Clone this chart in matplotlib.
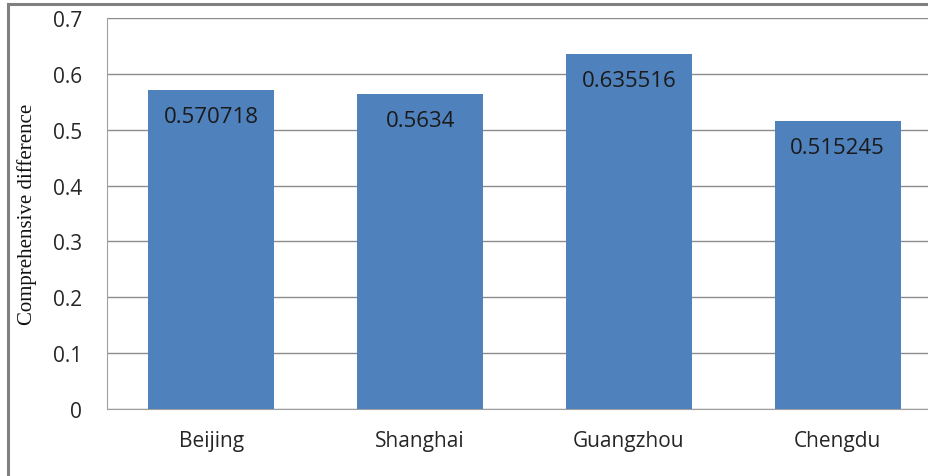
import matplotlib.pyplot as plt
from matplotlib.lines import Line2D

# data
cities = ['Beijing', 'Shanghai', 'Guangzhou', 'Chengdu']
values = [0.570718, 0.5634, 0.635516, 0.515245]
value_labels = ['0.570718', '0.5634', '0.635516', '0.515245']

plt.rcParams['font.family'] = ['Open Sans', 'DejaVu Sans']

fig = plt.figure(figsize=(9.29, 4.77), dpi=100)
ax = fig.add_axes([107/929, 67/477, 835/929, 391/477])

x = range(len(cities))
ax.bar(x, values, width=0.604, color='#4F81BD', zorder=3)

for i, (v, lab) in enumerate(zip(values, value_labels)):
    ax.annotate(lab, (i, v), xytext=(0, -19), textcoords='offset points',
                ha='center', va='center', fontsize=16, color='#1a1a1a', zorder=4)

ax.set_xlim(-0.5, 3.5)
ax.set_ylim(0, 0.7)
ax.set_yticks([0, 0.1, 0.2, 0.3, 0.4, 0.5, 0.6, 0.7])
ax.set_yticklabels(['0', '0.1', '0.2', '0.3', '0.4', '0.5', '0.6', '0.7'])
ax.set_xticks(list(x))
ax.set_xticklabels(cities)
ax.tick_params(axis='both', length=0, labelsize=15, colors='#262626')
ax.tick_params(axis='y', pad=18)
ax.tick_params(axis='x', pad=15)
ax.grid(axis='y', color='#8c8c8c', linewidth=1, zorder=0)

for s in ['top', 'right']:
    ax.spines[s].set_visible(False)
ax.spines['left'].set_color('#a0a0a0')
ax.spines['bottom'].set_color('#a0a0a0')

ax.set_ylabel('Comprehensive difference', family='Liberation Serif',
              fontsize=15, color='#111111')
ax.yaxis.set_label_coords(-70/835, 0.5)

# outer chart border (top and left)
fig.add_artist(Line2D([8/929, 1], [1 - 5/477, 1 - 5/477], transform=fig.transFigure,
                      color='#808080', linewidth=2.2))
fig.add_artist(Line2D([8/929, 8/929], [0, 1 - 5/477], transform=fig.transFigure,
                      color='#808080', linewidth=2.2))

fig.savefig('out.png', dpi=100)
